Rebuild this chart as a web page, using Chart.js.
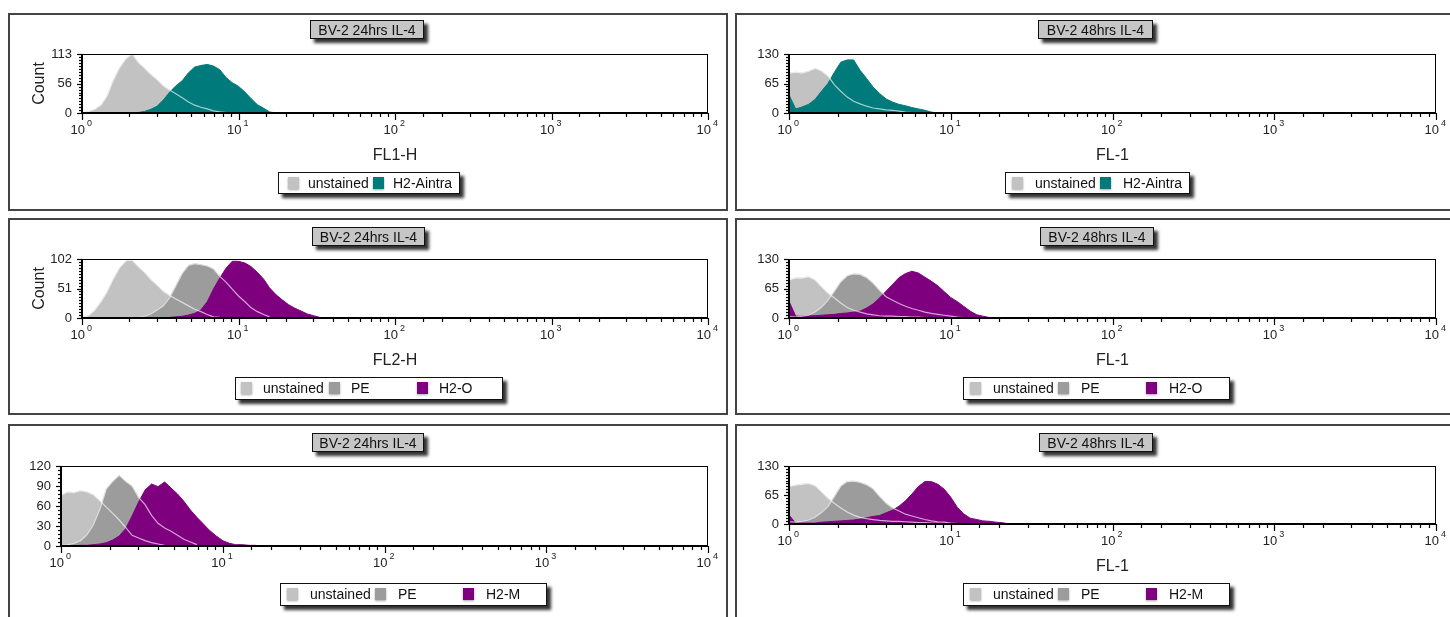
<!DOCTYPE html>
<html>
<head>
<meta charset="utf-8">
<script src="https://cdn.jsdelivr.net/npm/chart.js@4/dist/chart.umd.min.js"></script>
<style>
  html, body { margin: 0; padding: 0; background: #fff; overflow: hidden; width: 1450px; height: 617px; }
  body { position: relative; font-family: 'Liberation Sans', Arial, sans-serif; }
  .panel { position: absolute; border: 2px solid #444; box-sizing: border-box; background: #fff; }
  canvas { position: absolute; }
  .tbox { position: absolute; background: #c6c6c6; border: 1px solid #111; box-sizing: border-box;
          box-shadow: 4px 4px 3px rgba(0,0,0,0.8); font-size: 14px; color: #111;
          display: flex; align-items: center; justify-content: center; white-space: nowrap; }
  .lbox { position: absolute; background: #fff; border: 1px solid #111; box-sizing: border-box;
          box-shadow: 4px 4px 3px rgba(0,0,0,0.8); font-size: 14px; color: #111; }
  .sw { position: absolute; top: 4px; width: 11px; height: 12px; box-shadow: 0 1px 2px rgba(0,0,0,0.35); }
  .lt { position: absolute; top: 0; line-height: 20px; white-space: nowrap; }
</style>
</head>
<body>
<script>
// channel centres on the FL axis (log spaced, 10^0 .. 10^1.6)
const fluor = [1.00, 1.10, 1.20, 1.32, 1.45, 1.58, 1.74, 1.91, 2.09, 2.29,
               2.51, 2.75, 3.02, 3.31, 3.63, 3.98, 4.37, 4.79, 5.25, 5.75,
               6.31, 6.92, 7.59, 8.32, 9.12, 10.0, 11.0, 12.0, 13.2, 14.5,
               15.8, 17.4, 19.1, 20.9, 22.9, 25.1, 27.5, 30.2, 33.1, 36.3, 39.8];

const decades = [1, 10, 100, 1000, 10000];
const decadeExps = ['0', '1', '2', '3', '4'];

// 24hrs, H2-Aintra
const p1Unstained = [1, 3, 7, 15, 33, 62, 87, 104, 113, 97, 86, 74, 64, 52, 44, 37, 29, 21, 15, 11, 8, 4, 2, 1, 0];
const p1H2Aintra = [0, 0, 0, 0, 0, 0, 0, 0, 0, 1, 3, 7, 13, 25, 40, 52, 62, 77, 88, 91, 93, 90, 83, 68, 58, 51, 40, 28, 16, 9, 2, 0];
const p1YTicks = [0, 56, 113];

// 48hrs, H2-Aintra
const p2Unstained = [88, 90, 88, 92, 98, 93, 82, 62, 48, 35, 26, 20, 15, 11, 9, 7, 6, 4, 2, 1, 0];
const p2H2Aintra = [40, 9, 13, 19, 30, 47, 65, 90, 112, 117, 117, 94, 76, 57, 43, 31, 24, 19, 16, 12, 9, 6, 2, 0];
const p2YTicks = [0, 65, 130];

// 24hrs, H2-O
const p3Unstained = [1, 4, 13, 28, 46, 67, 87, 99, 100, 89, 79, 67, 57, 46, 39, 33, 27, 21, 15, 11, 6, 2, 1, 0];
const p3PE = [0, 0, 0, 0, 0, 0, 0, 0, 0, 1, 3, 7, 14, 21, 35, 56, 77, 91, 94, 92, 90, 85, 72, 62, 50, 38, 28, 18, 11, 6, 2, 0];
const p3H2O = [0, 0, 0, 0, 0, 0, 0, 0, 0, 0, 0, 0, 0, 0, 1, 2, 3, 5, 8, 14,
               28, 50, 69, 86, 98, 98, 95, 89, 79, 67, 52, 40, 31, 23, 17, 12, 7, 4, 1, 0];
const p3YTicks = [0, 51, 102];

// 48hrs, H2-O
const p4Unstained = [84, 88, 88, 91, 84, 70, 55, 44, 33, 23, 17, 13, 9, 7, 5, 4, 4, 3, 3, 2, 2, 1, 1, 0];
const p4PE = [3, 2, 4, 6, 13, 23, 39, 59, 80, 93, 97, 96, 89, 77, 61, 47, 39, 32, 26, 21, 17, 13, 10, 8, 6, 4, 2, 1, 0];
const p4H2O = [37, 4, 4, 5, 5, 6, 7, 8, 10, 11, 13, 15, 22, 31, 44, 59, 74, 89, 98, 103, 99, 90, 81, 71, 58, 45, 36, 26, 15, 7, 4, 1, 0];
const p4YTicks = [0, 65, 130];

// 24hrs, H2-M
const p5Unstained = [76, 81, 80, 83, 81, 77, 68, 58, 49, 39, 28, 16, 12, 8, 5, 3, 1, 0];
const p5PE = [1, 2, 4, 8, 17, 31, 55, 86, 97, 106, 97, 90, 73, 62, 46, 34, 27, 22, 16, 10, 6, 2, 0];
const p5H2M = [0, 0, 0, 1, 1, 2, 3, 5, 9, 15, 26, 45, 66, 84, 93, 89, 96, 87, 78, 67, 54, 43, 33, 23, 15, 8, 4, 2, 2, 1, 1, 0];
const p5YTicks = [0, 30, 60, 90, 120];

// 48hrs, H2-M
const p6Unstained = [84, 87, 89, 91, 86, 73, 58, 46, 36, 27, 20, 15, 12, 10, 8, 7, 6, 6, 5, 4, 3, 3, 2, 2, 1, 1, 0];
const p6PE = [5, 4, 6, 9, 15, 25, 39, 62, 85, 95, 96, 93, 88, 79, 62, 47, 36, 29, 22, 18, 14, 10, 7, 5, 4, 2, 1, 0];
const p6H2M = [20, 2, 2, 2, 2, 4, 5, 6, 7, 8, 9, 11, 14, 17, 19, 25, 31, 40, 52, 67, 84, 95, 95, 89, 78, 60, 37, 23, 13, 10, 7, 6, 4, 3, 0];
const p6YTicks = [0, 65, 130];

const colors = { unstained: '#c2c2c2', pe: '#9c9c9c', teal: '#007a7a', purple: '#7f007f' };
const FONT = "'Liberation Sans', Arial, sans-serif";
Chart.defaults.font.family = FONT;

// page layout: box = panel frame [left, top, w, h], plot = [left, top, right, bottom]
const panels = [
  { box: [8, 13, 720, 198], plot: [82, 54, 708, 113], title: 'BV-2 24hrs IL-4', tbox: [310, 20, 114, 19],
    xTitle: 'FL1-H', yTitle: 'Count', yTicks: p1YTicks, yMinor: 10,
    series: [['unstained', p1Unstained, 'unstained'], ['H2-Aintra', p1H2Aintra, 'teal']],
    legend: { box: [278, 172, 182, 22], first: 9, pitch: 85, text: 20 } },
  { box: [735, 13, 721, 198], plot: [789, 54, 1436, 113], title: 'BV-2 48hrs IL-4', tbox: [1038, 20, 115, 19],
    xTitle: 'FL-1', yTitle: '', yTicks: p2YTicks, yMinor: 10,
    series: [['unstained', p2Unstained, 'unstained'], ['H2-Aintra', p2H2Aintra, 'teal']],
    legend: { box: [1005, 172, 185, 22], first: 6, pitch: 88, text: 23 } },
  { box: [8, 218, 720, 197], plot: [82, 259, 708, 318], title: 'BV-2 24hrs IL-4', tbox: [312, 227, 113, 19],
    xTitle: 'FL2-H', yTitle: 'Count', yTicks: p3YTicks, yMinor: 10,
    series: [['unstained', p3Unstained, 'unstained'], ['PE', p3PE, 'pe'], ['H2-O', p3H2O, 'purple']],
    legend: { box: [235, 377, 268, 23], first: 5, pitch: 88, text: 22 } },
  { box: [735, 218, 721, 197], plot: [789, 259, 1436, 318], title: 'BV-2 48hrs IL-4', tbox: [1040, 227, 114, 19],
    xTitle: 'FL-1', yTitle: '', yTicks: p4YTicks, yMinor: 10,
    series: [['unstained', p4Unstained, 'unstained'], ['PE', p4PE, 'pe'], ['H2-O', p4H2O, 'purple']],
    legend: { box: [963, 377, 267, 23], first: 6, pitch: 88, text: 23 } },
  { box: [8, 424, 720, 210], plot: [61, 466, 708, 546], title: 'BV-2 24hrs IL-4', tbox: [312, 433, 112, 19],
    xTitle: '', yTitle: '', yTicks: p5YTicks, yMinor: 5,
    series: [['unstained', p5Unstained, 'unstained'], ['PE', p5PE, 'pe'], ['H2-M', p5H2M, 'purple']],
    legend: { box: [280, 583, 267, 23], first: 6, pitch: 88, text: 23 } },
  { box: [735, 424, 721, 210], plot: [789, 466, 1436, 524], title: 'BV-2 48hrs IL-4', tbox: [1039, 433, 114, 19],
    xTitle: 'FL-1', yTitle: '', yTicks: p6YTicks, yMinor: 10,
    series: [['unstained', p6Unstained, 'unstained'], ['PE', p6PE, 'pe'], ['H2-M', p6H2M, 'purple']],
    legend: { box: [963, 583, 267, 23], first: 6, pitch: 88, text: 23 } }
];

// frame, tick marks and superscript decade labels, drawn over the histograms
const flowAxes = {
  id: 'flowAxes',
  afterDatasetsDraw(chart, args, opts) {
    const { ctx, chartArea: a } = chart;
    const xs = chart.scales.x, ys = chart.scales.y;
    ctx.save();
    ctx.strokeStyle = '#000';
    ctx.lineWidth = 1;
    ctx.strokeRect(a.left + 0.5, a.top + 0.5, a.right - a.left - 1, a.bottom - a.top - 1);
    ctx.lineWidth = 2;
    ctx.beginPath();
    ctx.moveTo(a.left, a.top);
    ctx.lineTo(a.left, a.bottom);
    ctx.lineTo(a.right, a.bottom);
    ctx.stroke();

    ctx.lineWidth = 1.2;
    xs.ticks.forEach(t => {
      const px = Math.round(xs.getPixelForValue(t.value)) + 0.5;
      const lg = Math.log10(t.value);
      const major = Math.abs(lg - Math.round(lg)) < 1e-6;
      ctx.beginPath();
      ctx.moveTo(px, a.bottom);
      ctx.lineTo(px, a.bottom + (major ? 7 : 4));
      ctx.stroke();
    });

    ctx.fillStyle = '#222';
    ctx.textBaseline = 'alphabetic';
    decades.forEach((v, i) => {
      const px = xs.getPixelForValue(v);
      ctx.font = '13px ' + FONT;
      ctx.textAlign = 'right';
      ctx.fillText('10', px + 3, a.bottom + 21);
      ctx.font = '9px ' + FONT;
      ctx.textAlign = 'left';
      ctx.fillText(decadeExps[i], px + 5, a.bottom + 13);
    });

    const yt = ys.ticks.map(t => t.value);
    yt.forEach((v, i) => {
      const py = Math.round(ys.getPixelForValue(v)) + 0.5;
      ctx.beginPath();
      ctx.moveTo(a.left - 5, py);
      ctx.lineTo(a.left, py);
      ctx.stroke();
      if (i < yt.length - 1) {
        const step = (yt[i + 1] - v) / opts.minor;
        for (let k = 1; k < opts.minor; k++) {
          const my = Math.round(ys.getPixelForValue(v + k * step)) + 0.5;
          ctx.beginPath();
          ctx.moveTo(a.left - 3, my);
          ctx.lineTo(a.left, my);
          ctx.stroke();
        }
      }
    });
    ctx.restore();
  }
};

function place(tag, cls, l, t, w, h) {
  const d = document.createElement(tag);
  if (cls) d.className = cls;
  d.style.left = l + 'px';
  d.style.top = t + 'px';
  if (w != null) d.style.width = w + 'px';
  if (h != null) d.style.height = h + 'px';
  document.body.appendChild(d);
  return d;
}

panels.forEach(p => {
  const [bl, bt, bw, bh] = p.box;
  const [pl, pt, pr, pb] = p.plot;
  place('div', 'panel', bl, bt, bw, bh);

  const cv = place('canvas', '', bl, bt);
  cv.width = bw;
  cv.height = bh;

  const yW = pl - bl;
  const xH = bt + bh - pb;

  const datasets = [];
  p.series.forEach(([name, vals, key], i) => {
    datasets.push({
      label: name,
      data: vals.map((v, j) => ({ x: fluor[j], y: v })),
      backgroundColor: colors[key],
      borderColor: colors[key],
      borderWidth: 1,
      fill: 'origin',
      order: 20 - i
    });
    if (i < p.series.length - 1) {
      datasets.push({
        label: name + ' outline',
        data: vals.map((v, j) => ({ x: fluor[j], y: v > 0 ? v : null })),
        borderColor: 'rgba(255,255,255,0.65)',
        borderWidth: 1.2,
        fill: false,
        order: 1
      });
    }
  });

  new Chart(cv, {
    type: 'line',
    data: { datasets },
    options: {
      responsive: false,
      animation: false,
      events: [],
      layout: { autoPadding: false, padding: { left: 0, right: bl + bw - pr, top: pt - bt, bottom: 0 } },
      elements: { point: { radius: 0 }, line: { tension: 0 } },
      plugins: { legend: { display: false }, tooltip: { enabled: false }, flowAxes: { minor: p.yMinor } },
      scales: {
        x: {
          type: 'logarithmic', min: 1, max: 10000,
          grid: { display: false, drawTicks: false }, border: { display: false },
          ticks: { display: false },
          title: { display: !!p.xTitle, text: p.xTitle, color: '#222', font: { size: 16 },
                   padding: { top: 0, bottom: xH - 43 - 9.6 } },
          afterFit: s => { s.height = xH; }
        },
        y: {
          min: 0, max: p.yTicks[p.yTicks.length - 1],
          grid: { display: false, drawTicks: false }, border: { display: false },
          afterBuildTicks: s => { s.ticks = p.yTicks.map(v => ({ value: v })); },
          ticks: { color: '#222', font: { size: 13 }, padding: 10 },
          title: { display: !!p.yTitle, text: p.yTitle, color: '#222', font: { size: 16 },
                   padding: { top: 22, bottom: 0 } },
          afterFit: s => { s.width = yW; }
        }
      }
    },
    plugins: [flowAxes]
  });

  const [tl, tt, tw, th] = p.tbox;
  place('div', 'tbox', tl, tt, tw, th).textContent = p.title;

  const lg = p.legend;
  const box = place('div', 'lbox', lg.box[0], lg.box[1], lg.box[2], lg.box[3]);
  p.series.forEach(([name, , key], i) => {
    const sw = document.createElement('div');
    sw.className = 'sw';
    sw.style.left = (lg.first + i * lg.pitch) + 'px';
    sw.style.background = colors[key];
    box.appendChild(sw);
    const tx = document.createElement('div');
    tx.className = 'lt';
    tx.style.left = (lg.first + i * lg.pitch + lg.text) + 'px';
    tx.textContent = name;
    box.appendChild(tx);
  });
});
</script>
</body>
</html>
